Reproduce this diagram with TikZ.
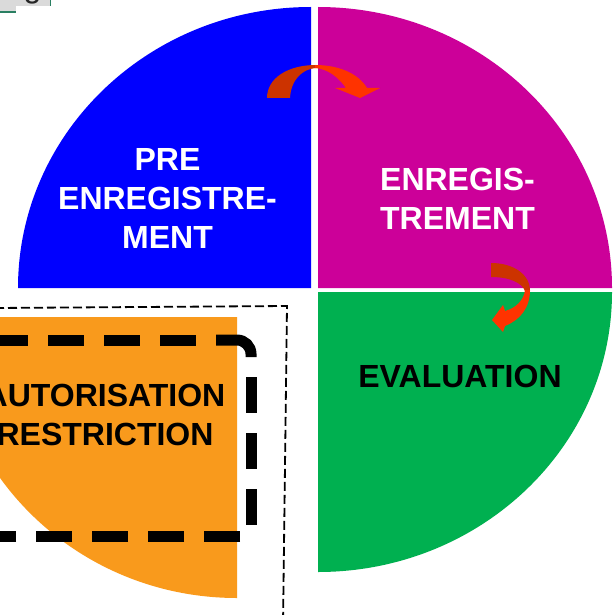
\documentclass[tikz,border=0pt]{standalone}
\usepackage{fontspec}
\setmainfont{Liberation Sans}
\definecolor{qblue}{HTML}{0000FF}
\definecolor{qmag}{HTML}{CC0099}
\definecolor{qgreen}{HTML}{00B050}
\definecolor{qorange}{HTML}{F99A1C}
\definecolor{arrdark}{HTML}{CC3300}
\definecolor{arrlight}{HTML}{FF3300}
\definecolor{cellgray}{HTML}{DADADA}
\definecolor{cellteal}{HTML}{2A7F62}
\tikzset{
  lbl/.style={inner sep=0pt, align=center, font={\fontsize{32}{39}\selectfont\bfseries}},
  thickdash/.style={line width=11pt, black, line cap=butt},
  thindash/.style={line width=1.8pt, black, dash pattern=on 9pt off 4pt},
}
\begin{document}
\begin{tikzpicture}[x=1pt,y=1pt]
\useasboundingbox (0,0) rectangle (615,-615);
\fill[white] (0,0) rectangle (615,-615);
% top-left cell fragment
\fill[cellgray] (0,0) rectangle (16,-12);
\fill[cellgray] (16,0) rectangle (50,-6);
\draw[cellteal, line width=1.5pt] (0,-12) -- (16,-12);
\draw[cellteal, line width=1.5pt] (50.7,0) -- (50.7,-6);
\node[anchor=base, inner sep=0pt, text=black!85, font={\fontsize{32}{38}\selectfont}] (cell) at (32.5,2) {g};
% quadrants
\fill[qblue] (311,-288) -- (18,-288) arc[start angle=180, end angle=90, x radius=293, y radius=281] -- cycle;
\fill[qmag] (318,-288) -- (318,-7) arc[start angle=90, end angle=0, x radius=294, y radius=281] -- cycle;
\fill[qgreen] (318,-292) -- (612,-292) arc[start angle=0, end angle=-90, x radius=294, y radius=280] -- cycle;
\fill[qorange] (237,-317) -- (237,-598) arc[start angle=270, end angle=180, x radius=289, y radius=281] -- cycle;
% thin dashed frame
\draw[thindash] (-5,-308) -- (287,-306) -- (283,-625);
% thick dashed frame
\draw[thickdash, dash pattern=on 36pt off 20pt, dash phase=4pt] (-60,-340) -- (200,-340);
\draw[thickdash] (216,-340) -- (237,-340) arc[start angle=90, end angle=0, radius=14] -- (251,-357);
\draw[thickdash, dash pattern=on 36pt off 20pt] (251,-377) -- (251,-526);
\draw[thickdash, dash pattern=on 36pt off 20pt] (240,-536) -- (-60,-536);
% labels
\node[lbl, text=white] (pre) at (167.5,-198) {PRE\\ENREGISTRE-\\MENT};
\node[lbl, text=white] (enr) at (457.5,-199) {ENREGIS-\\TREMENT};
\node[lbl, text=black] (eva) at (460,-376.5) {EVALUATION};
\node[lbl, text=black] (aut) at (105,-414.5) {AUTORISATION\\RESTRICTION};
% top curved arrow
\fill[arrdark] (267,-98) .. controls (267,-78) and (288,-65) .. (316,-65) -- (316,-68) .. controls (302,-69) and (291,-80) .. (290,-98) -- cycle;
\fill[arrlight] (315,-65) .. controls (338,-65) and (358,-73) .. (367,-88) -- (380,-88) -- (360,-98) -- (335,-88) -- (346,-88) .. controls (338,-77) and (328,-69) .. (315,-68) -- cycle;
% right curved arrow
\fill[arrdark] (491,-263) .. controls (513,-263) and (530,-274) .. (530,-291) -- (525,-291) .. controls (522,-283) and (510,-277) .. (491,-277) -- cycle;
\fill[arrlight] (530,-290) .. controls (530,-308) and (520,-320) .. (505,-326) -- (503,-332) -- (492,-320) -- (503,-305) -- (505,-311) .. controls (516,-308) and (524,-300) .. (525,-290) -- cycle;
\end{tikzpicture}
\end{document}
